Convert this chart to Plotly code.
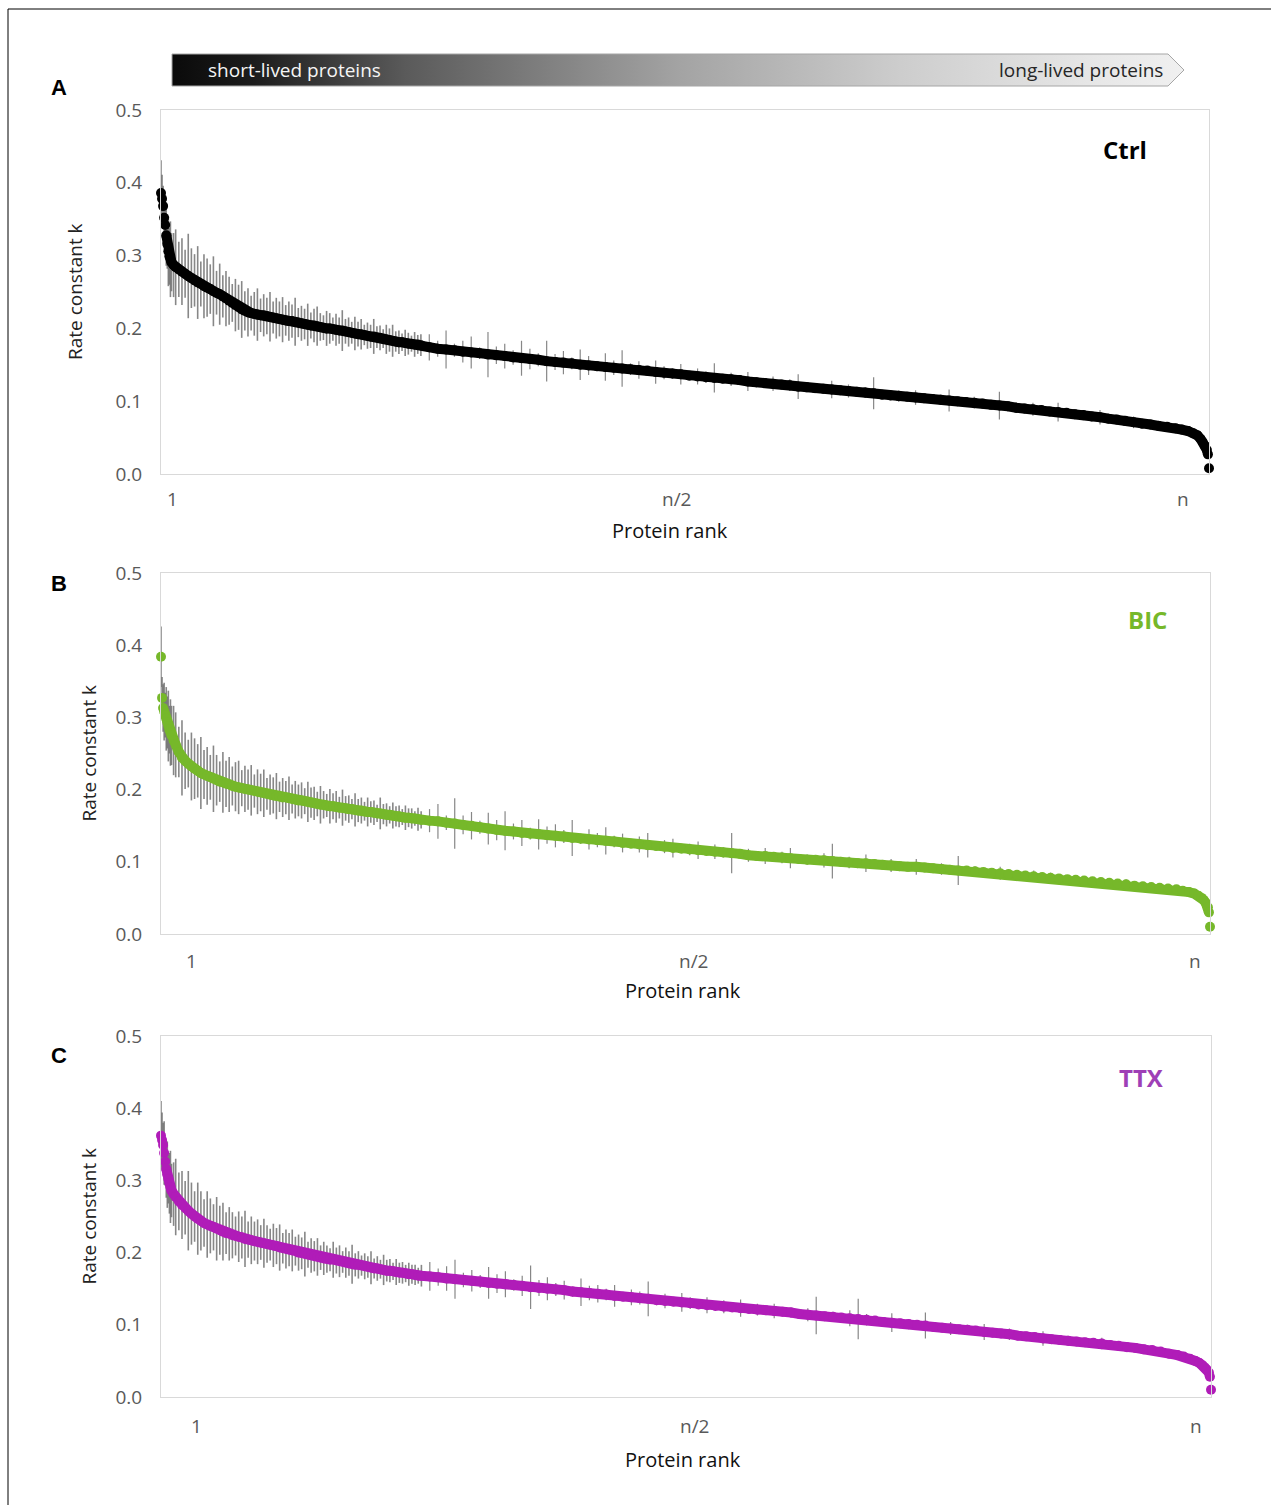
import plotly.graph_objects as go

W, H = 1271, 1505

# ---------------- data ----------------
# protein rank position, in thousandths of n (0 = rank 1, 1000 = rank n)
rank_permille = [
    0, 1, 2, 3, 4, 5, 6, 7, 8, 9, 10, 12,
    14, 17, 20, 23, 26, 29, 32, 35, 38, 41, 44, 47, 50, 53, 56, 59, 62, 65,
    68, 71, 74, 77, 80, 83, 86, 89, 92, 95, 98, 101, 104, 107, 110, 113, 116,
    119, 122, 125, 128, 131, 134, 137, 140, 143, 146, 149, 152, 155, 158, 161,
    164, 167, 170, 173, 176, 179, 182, 185, 188, 191, 194, 197, 200, 203, 206,
    209, 212, 215, 218, 221, 224, 227, 230, 233, 236, 239, 242, 245, 248,
    256, 264, 272, 280, 288, 296, 304, 312, 320, 328, 336, 344, 352, 360, 368,
    376, 384, 392, 400, 408, 416, 424, 432, 440, 448, 456, 464, 472, 480, 488,
    496, 504, 512, 520, 528, 536, 544, 552, 560, 568, 576, 584, 592, 600, 608,
    616, 624, 632, 640, 648, 656, 664, 672, 680, 688, 696, 704, 712, 720, 728,
    736, 744, 752, 760, 768, 776, 784, 792, 800, 808, 816, 824, 832, 840, 848,
    856, 864, 872, 880, 888, 896, 904, 912, 920, 928, 936, 944, 952, 960, 968,
    974, 980, 985, 989, 992, 994, 996, 998, 999, 1000,
]

# rate constant k, in thousandths
ctrl_k = [
    386, 378, 368, 352, 342, 328, 316, 306, 299, 295, 291, 287,
    284, 281, 278, 275, 272, 269, 266, 263, 261, 258,
    256, 254, 251, 249, 247, 244, 241, 238, 235, 232,
    229, 226, 224, 222, 221, 220, 219, 218, 218, 217,
    216, 215, 214, 213, 212, 211, 210, 210, 209, 208,
    207, 206, 205, 204, 204, 203, 202, 201, 200, 200,
    199, 198, 197, 197, 196, 195, 194, 193, 192, 192,
    191, 190, 189, 189, 188, 187, 186, 185, 184, 183,
    182, 181, 181, 180, 179, 179, 178, 178, 177,
    174, 172, 171, 170, 168, 167, 166, 164, 163, 162,
    160, 159, 158, 157, 155, 154, 153, 152, 150, 149, 148, 147,
    146, 145, 144, 143, 142, 140, 139, 138, 137, 135, 134, 133, 132, 131, 130,
    129, 127, 126, 125, 124, 123, 122, 120,
    119, 118, 117, 116, 115, 114, 113, 112, 111, 109, 108, 107, 106, 105, 104,
    103, 102, 101, 100, 99, 98, 97, 95, 94, 93, 91, 90, 89, 88, 86,
    85, 84, 82, 81, 79, 78, 76, 75, 73, 71, 69, 68, 66, 65, 63,
    61, 59, 56, 53, 48, 44, 39, 33, 27, 8,
]
bic_k = [
    384, 327, 313, 308, 303, 298, 293, 288, 283, 279, 275, 268,
    262, 252, 244, 240, 236, 232, 229, 226, 223, 221,
    219, 217, 215, 213, 211, 210, 208, 207, 205, 204,
    203, 202, 201, 200, 199, 198, 197, 196, 195, 194,
    193, 192, 191, 190, 189, 189, 188, 187, 186, 185,
    185, 184, 183, 182, 181, 180, 179, 179, 178, 177,
    177, 176, 175, 175, 174, 173, 173, 172, 171, 171,
    170, 169, 169, 168, 167, 167, 166, 165, 165, 164,
    163, 163, 162, 161, 161, 160, 160, 159, 158,
    157, 156, 154, 153, 151, 150, 148, 146,
    144, 143, 142, 140, 139, 138, 137, 136, 135, 133, 132, 131, 130, 129, 128,
    126, 125, 124, 123, 122, 121, 119, 118, 117, 116, 115, 114, 113, 112, 111, 109,
    108, 108, 107, 106, 105, 104, 103, 103, 102, 101,
    100, 99, 98, 98, 97, 96, 95, 94, 93, 93,
    92, 91, 90, 89, 88, 88, 87, 86, 85, 84,
    83, 82, 81, 80, 79, 78, 77, 76, 75, 74, 73, 72, 71, 70, 69, 67, 66, 65, 64, 63, 62,
    60, 58, 56, 53, 50, 47, 43, 37, 30, 10,
]
ttx_k = [
    362, 356, 349, 338, 326, 316, 308, 302, 296, 291, 286, 281,
    277, 271, 266, 262, 258, 254, 250, 247, 244, 241,
    239, 237, 235, 233, 231, 229, 227, 226, 224, 223,
    222, 221, 219, 218, 217, 216, 215, 214, 213, 212,
    211, 210, 209, 207, 206, 205, 204, 203, 202, 200,
    199, 198, 197, 196, 195, 194, 193, 192, 191, 190,
    190, 189, 188, 187, 186, 185, 184, 183, 183, 182,
    181, 180, 179, 178, 178, 177, 176, 175, 175, 174,
    173, 172, 172, 171, 170, 170, 169, 168, 168,
    167, 166, 164, 163, 162, 161, 160, 158, 157, 156,
    155, 154, 152, 151, 150, 149, 148, 146, 145, 144,
    143, 142, 140, 139, 138, 137, 136, 134, 133, 132,
    131, 130, 128, 127, 126, 125, 124, 123, 122, 121,
    120, 119, 118, 117, 115, 114, 113, 112, 111, 110,
    109, 108, 107, 106, 104, 103, 102, 101, 100, 99,
    97, 96, 95, 94, 93, 92, 90, 89, 88, 87,
    85, 84, 83, 81, 80, 79, 78, 77, 76, 75,
    74, 72, 71, 69, 68, 66, 65, 63, 60, 58,
    56, 53, 50, 47, 44, 41, 38, 34, 28, 10,
]

# error (s.d.) of k, in thousandths
ctrl_err = [
    45, 33, 28, 38, 31, 42, 34, 48, 39, 52, 40, 44,
    52, 38, 46, 33, 58, 41, 36, 50, 31, 44,
    40, 34, 48, 30, 42, 29, 38, 33, 26, 36,
    31, 39, 27, 33, 24, 30, 36, 23, 29, 25,
    34, 22, 28, 24, 31, 21, 27, 23, 33, 20,
    24, 21, 29, 18, 23, 27, 19, 17, 24, 21,
    16, 22, 18, 28, 17, 20, 15, 23, 17, 21,
    14, 18, 16, 24, 15, 17, 13, 20, 16, 22,
    14, 16, 12, 18, 15, 11, 17, 13, 15,
    18, 11, 26, 9, 15, 22, 8, 31, 12, 17, 10, 24, 14, 9, 28, 11, 16, 8, 21, 13,
    7, 19, 10, 25, 8,
    12, 6, 16, 9, 7, 14, 5, 11, 8, 20, 6, 9, 5, 13, 7,
    6, 10, 5, 8, 17, 5, 7, 6, 12, 4,
    9, 5, 7, 22, 4, 6, 8, 5, 10, 4,
    6, 7, 15, 5, 4, 8, 6, 5, 19, 4,
    7, 5, 9, 4, 6, 13, 5, 4, 7, 5,
    10, 4, 6, 5, 8, 4, 5, 7, 4, 5,
    5, 4, 6, 4, 5, 4, 3, 4, 3, 3,
]
bic_err = [
    42, 29, 33, 40, 31, 44, 36, 49, 33, 46, 41, 48,
    45, 35, 52, 39, 33, 47, 42, 37, 50, 34,
    40, 31, 46, 35, 28, 42, 32, 38, 27, 34,
    37, 25, 32, 28, 35, 23, 31, 26, 33, 22,
    28, 25, 32, 21, 27, 23, 30, 20, 26, 22,
    25, 18, 28, 21, 23, 17, 26, 19, 16, 24,
    18, 22, 15, 25, 17, 19, 14, 23, 16, 18,
    13, 20, 15, 17, 12, 22, 14, 16, 12, 18,
    14, 15, 11, 17, 13, 14, 10, 16, 12,
    16, 24, 10, 35, 13, 19, 9, 22, 14, 27, 11, 18, 8, 21, 12, 16, 9, 25, 7, 14,
    10, 19, 8, 13, 6,
    11, 17, 6, 9, 13, 5, 8, 12, 6, 10, 7, 28, 5, 9, 6,
    11, 5, 8, 14, 6, 7, 5, 10, 24, 6,
    8, 5, 12, 7, 4, 9, 6, 5, 11, 4,
    6, 8, 5, 20, 4, 7, 6, 5, 9, 4,
    6, 5, 8, 4, 7, 5, 4, 6, 5, 4,
    6, 4, 5, 7, 4, 5, 4, 6, 4, 5,
    4, 5, 3, 4, 5, 3, 4, 3, 3, 3,
]
ttx_err = [
    48, 38, 31, 44, 33, 40, 46, 34, 42, 50, 37, 44,
    53, 40, 47, 37, 55, 43, 35, 50, 41, 33,
    46, 38, 32, 44, 34, 40, 29, 37, 32, 27,
    35, 29, 39, 25, 33, 27, 31, 24, 34, 26,
    22, 30, 25, 32, 21, 27, 23, 29, 20, 25,
    22, 31, 18, 24, 21, 26, 17, 23, 19, 16,
    25, 18, 22, 15, 21, 17, 27, 16, 19, 14,
    18, 15, 23, 14, 17, 13, 21, 15, 16, 12,
    18, 14, 15, 12, 16, 13, 14, 11, 15,
    20, 12, 17, 27, 10, 15, 9, 22, 13, 18, 8, 14, 30, 11, 16, 9, 13, 7, 19, 10,
    12, 8, 15, 6, 11,
    9, 24, 7, 10, 6, 13, 8, 5, 11, 7, 9, 5, 12, 6, 8,
    5, 10, 6, 7, 4, 9, 26, 5, 7, 6,
    11, 28, 8, 5, 6, 13, 4, 7, 5, 18,
    6, 4, 9, 5, 7, 4, 11, 5, 4, 8,
    5, 6, 4, 10, 5, 4, 7, 5, 4, 6,
    8, 4, 5, 6, 4, 5, 4, 6, 4, 5,
    5, 4, 4, 5, 3, 4, 3, 4, 3, 3,
]

conditions = ["Ctrl", "BIC", "TTX"]
panel_letters = ["A", "B", "C"]
x_tick_text = ["1", "n/2", "n"]
y_tick_vals = [0.0, 0.1, 0.2, 0.3, 0.4, 0.5]

# ---------------- style / layout ----------------
FONT = "Open Sans"
TICK_COLOR = "#595959"
BOX_COLOR = "#d9d9d9"
ERR_COLOR = "rgba(105,105,105,0.8)"
DOT = 10          # marker diameter / line width of the rank curve
DENSE = 91        # leading points with densely packed error bars

def fx(p):
    return p / W

def fy(p):
    return 1 - p / H

panel_style = [
    dict(top=110, bottom=474, left=161, right=1209, color="#000000", label_color="#000000",
         label_xy=(1125, 150), letter_y=87, ytitle_x=75, xtitle_xy=(670, 530),
         xtick_px=[172, 677, 1183], xtick_y=499, line_start=5),
    dict(top=573, bottom=934, left=161, right=1210, color="#76b82a", label_color="#76b82a",
         label_xy=(1147, 619), letter_y=583, ytitle_x=88, xtitle_xy=(683, 990),
         xtick_px=[191, 693, 1195], xtick_y=961, line_start=2),
    dict(top=1036, bottom=1397, left=161, right=1211, color="#b01cb8", label_color="#9e3fb6",
         label_xy=(1141, 1077), letter_y=1055, ytitle_x=88, xtitle_xy=(683, 1459),
         xtick_px=[196, 694, 1196], xtick_y=1426, line_start=5),
]
series_k = [ctrl_k, bic_k, ttx_k]
series_err = [ctrl_err, bic_err, ttx_err]

fig = go.Figure()

# gradient arrow banner ("short-lived" -> "long-lived") on its own pixel-unit axis
BANNER_TOP, BANNER_BOTTOM = 40, 100
ARROW_X = [172, 1168, 1184, 1168, 172, 172]
ARROW_Y = [54, 54, 70, 86, 86, 54]
fig.add_trace(go.Scatter(
    x=ARROW_X, y=ARROW_Y, xaxis="x4", yaxis="y4", mode="lines",
    fill="toself",
    fillgradient=dict(type="horizontal", colorscale=[
        [0.0, "#0a0a0a"], [0.08, "#1c1c1c"], [0.23, "#5a5a5a"], [0.5, "#a3a3a3"],
        [0.72, "#cdcdcd"], [0.92, "#e8e8e8"], [1.0, "#f0f0f0"]]),
    line=dict(color="#a6a6a6", width=1),
    hoverinfo="skip", showlegend=False,
))

annotations = []
for i, (st, k, err) in enumerate(zip(panel_style, series_k, series_err)):
    n = i + 1
    xa, ya = (f"x{n}", f"y{n}") if n > 1 else ("x", "y")
    y = [v / 1000 for v in k]
    e = [v / 1000 for v in err]
    # error bars (behind): dense start region a bit thicker
    for sl, thick in ((slice(0, DENSE), 1.6), (slice(DENSE, None), 1.2)):
        fig.add_trace(go.Scatter(
            x=rank_permille[sl], y=y[sl], xaxis=xa, yaxis=ya, mode="markers",
            marker=dict(size=2, color="rgba(0,0,0,0)"),
            error_y=dict(type="data", array=e[sl], visible=True, color=ERR_COLOR,
                         thickness=thick, width=0),
            cliponaxis=False, hoverinfo="skip", showlegend=False,
        ))
    s = st["line_start"]
    fig.add_trace(go.Scatter(
        x=rank_permille[s:-1], y=y[s:-1], xaxis=xa, yaxis=ya, mode="lines",
        line=dict(color=st["color"], width=DOT),
        cliponaxis=False, hoverinfo="skip", showlegend=False,
    ))
    fig.add_trace(go.Scatter(
        x=rank_permille, y=y, xaxis=xa, yaxis=ya, mode="markers",
        marker=dict(size=DOT, color=st["color"], line=dict(width=0)),
        cliponaxis=False, name=conditions[i], showlegend=False,
    ))

    axis_common = dict(showgrid=False, zeroline=False, showline=True, mirror=True,
                       linecolor=BOX_COLOR, linewidth=1, automargin=False)
    fig.update_layout(**{
        ("xaxis" if n == 1 else f"xaxis{n}"): dict(
            domain=[fx(st["left"]), fx(st["right"])], range=[0, 1000],
            anchor=ya, showticklabels=False, ticks="", **axis_common),
        ("yaxis" if n == 1 else f"yaxis{n}"): dict(
            domain=[fy(st["bottom"]), fy(st["top"])], range=[0, 0.5],
            anchor=xa, tickvals=y_tick_vals, tickformat=".1f", ticks="",
            ticklabelstandoff=14,
            tickfont=dict(family=FONT, size=19, color=TICK_COLOR), **axis_common),
    })

    # x tick labels (offset as in the original)
    for t, p in zip(x_tick_text, st["xtick_px"]):
        annotations.append(dict(x=fx(p), y=fy(st["xtick_y"]), xref="paper", yref="paper",
                                text=t, showarrow=False, xanchor="center", yanchor="middle",
                                font=dict(family=FONT, size=19, color=TICK_COLOR)))
    annotations.append(dict(x=fx(st["xtitle_xy"][0]), y=fy(st["xtitle_xy"][1]),
                            xref="paper", yref="paper", text="Protein rank", showarrow=False,
                            xanchor="center", yanchor="middle",
                            font=dict(family=FONT, size=20, color="#111111")))
    annotations.append(dict(x=fx(st["ytitle_x"]), y=fy((st["top"] + st["bottom"]) / 2),
                            xref="paper", yref="paper", text="Rate constant k", showarrow=False,
                            textangle=-90, xanchor="center", yanchor="middle",
                            font=dict(family=FONT, size=19, color="#222222")))
    annotations.append(dict(x=fx(59), y=fy(st["letter_y"]), xref="paper", yref="paper",
                            text=f"<b>{panel_letters[i]}</b>", showarrow=False,
                            xanchor="center", yanchor="middle",
                            font=dict(family="Liberation Sans", size=22, color="#000000")))
    annotations.append(dict(x=fx(st["label_xy"][0]), y=fy(st["label_xy"][1]),
                            xref="paper", yref="paper", text=f"<b>{conditions[i]}</b>",
                            showarrow=False, xanchor="center", yanchor="middle",
                            font=dict(family=FONT, size=24, color=st["label_color"])))

# banner texts
annotations.append(dict(x=fx(206), y=fy(70), xref="paper", yref="paper",
                        text="short-lived proteins", showarrow=False, xanchor="left",
                        yanchor="middle", font=dict(family=FONT, size=19, color="#f5f5f5")))
annotations.append(dict(x=fx(1165), y=fy(70), xref="paper", yref="paper",
                        text="long-lived proteins", showarrow=False, xanchor="right",
                        yanchor="middle", font=dict(family=FONT, size=19, color="#262626")))

fig.update_layout(
    width=W, height=H,
    margin=dict(l=0, r=0, t=0, b=0, pad=0, autoexpand=False),
    paper_bgcolor="white", plot_bgcolor="rgba(0,0,0,0)",
    showlegend=False,
    annotations=annotations,
    xaxis4=dict(domain=[0, 1], range=[0, W], visible=False, anchor="y4", fixedrange=True),
    yaxis4=dict(domain=[fy(BANNER_BOTTOM), fy(BANNER_TOP)], range=[BANNER_BOTTOM, BANNER_TOP],
                visible=False, anchor="x4", fixedrange=True),
    shapes=[
        dict(type="line", xref="paper", yref="paper", x0=fx(8), x1=fx(8), y0=fy(9), y1=0,
             line=dict(color="#000000", width=1)),
        dict(type="line", xref="paper", yref="paper", x0=fx(8), x1=1, y0=fy(9), y1=fy(9),
             line=dict(color="#000000", width=1)),
    ],
)

fig.write_html(
    "out.html",
    config={"displayModeBar": False},
    post_script=(
        "document.documentElement.style.margin='0';"
        "document.body.style.margin='0';document.body.style.padding='0';"
        "document.documentElement.style.overflow='hidden';"
        "var gd=document.getElementById('{plot_id}');"
        "gd.style.position='fixed';gd.style.left='0px';gd.style.top='0px';"
    ),
)
